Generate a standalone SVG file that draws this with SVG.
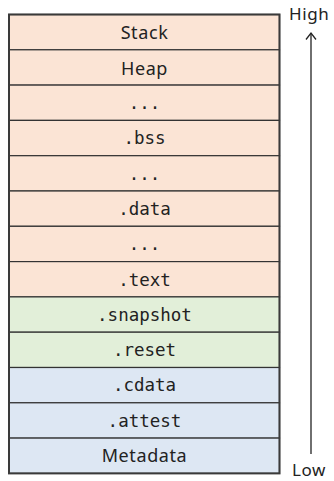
<svg xmlns="http://www.w3.org/2000/svg" width="334" height="481" viewBox="0 0 334 481">
  <style>
    .cell { stroke: #333333; stroke-width: 1.2; }
    .ram { fill: #fbe4d5; }
    .snap { fill: #e2efd9; }
    .meta { fill: #dde7f3; }
    .frame { fill: none; stroke: #3a3a3a; stroke-width: 2; }
    .sans { font-family: "Noto Sans", Lato, sans-serif; font-size: 18px; letter-spacing: 0.6px; fill: #222222; text-anchor: middle; }
    .mono { font-family: "DejaVu Sans Mono", "Liberation Mono", monospace; font-size: 17.5px; fill: #222222; text-anchor: middle; }
    .axis { font-family: "Noto Sans", Lato, sans-serif; font-size: 17px; letter-spacing: 0.6px; fill: #222222; }
    .arrow { stroke: #222222; stroke-width: 1.3; fill: none; }
  </style>

  <!-- memory regions, top (high address) to bottom (low address) -->
  <g id="stack"><rect class="cell ram" x="9" y="14.5" width="270.5" height="35.3"/><text class="sans" x="144.5" y="39.3">Stack</text></g>
  <g id="heap"><rect class="cell ram" x="9" y="49.8" width="270.5" height="35.3"/><text class="sans" x="144.5" y="74.6">Heap</text></g>
  <g id="gap1"><rect class="cell ram" x="9" y="85.1" width="270.5" height="35.3"/><text class="mono" x="144.5" y="109">...</text></g>
  <g id="bss"><rect class="cell ram" x="9" y="120.4" width="270.5" height="35.3"/><text class="mono" x="144.5" y="144.3">.bss</text></g>
  <g id="gap2"><rect class="cell ram" x="9" y="155.7" width="270.5" height="35.3"/><text class="mono" x="144.5" y="179.6">...</text></g>
  <g id="data"><rect class="cell ram" x="9" y="191" width="270.5" height="35.3"/><text class="mono" x="144.5" y="214.9">.data</text></g>
  <g id="gap3"><rect class="cell ram" x="9" y="226.3" width="270.5" height="35.3"/><text class="mono" x="144.5" y="250.2">...</text></g>
  <g id="text"><rect class="cell ram" x="9" y="261.6" width="270.5" height="35.3"/><text class="mono" x="144.5" y="285.5">.text</text></g>
  <g id="snapshot"><rect class="cell snap" x="9" y="296.9" width="270.5" height="35.3"/><text class="mono" x="144.5" y="320.8">.snapshot</text></g>
  <g id="reset"><rect class="cell snap" x="9" y="332.2" width="270.5" height="35.3"/><text class="mono" x="144.5" y="356.1">.reset</text></g>
  <g id="cdata"><rect class="cell meta" x="9" y="367.5" width="270.5" height="35.3"/><text class="mono" x="144.5" y="391.4">.cdata</text></g>
  <g id="attest"><rect class="cell meta" x="9" y="402.8" width="270.5" height="35.3"/><text class="mono" x="144.5" y="426.7">.attest</text></g>
  <g id="metadata"><rect class="cell meta" x="9" y="438.1" width="270.5" height="35.3"/><text class="sans" x="144.5" y="461.8">Metadata</text></g>
  <rect class="frame" x="9" y="14.5" width="270.5" height="458.9"/>

  <!-- address axis -->
  <g id="connectors">
    <line class="arrow" x1="311" y1="454" x2="311" y2="33"/>
    <polyline class="arrow" points="306,39.5 311,33 316,39.5"/>
  </g>
  <text class="axis" x="289" y="20">High</text>
  <text class="axis" x="292" y="475.5">Low</text>
</svg>
